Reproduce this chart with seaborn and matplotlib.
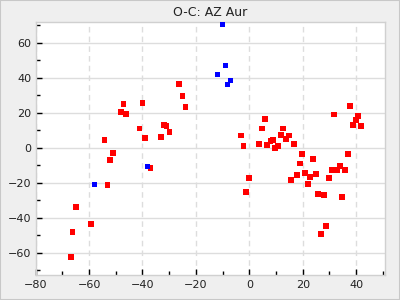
import matplotlib
matplotlib.use("Agg")
import matplotlib.pyplot as plt
from matplotlib.ticker import MultipleLocator
from matplotlib.patches import Rectangle
import seaborn as sns
import pandas as pd

red_x = [-66.9, -66.2, -64.9, -59.1, -54.2, -53.1, -52.0, -51.1, -48.1, -47.1,
         -46.0, -41.1, -40.0, -38.9, -37.0, -32.9, -32.1, -31.0, -29.9, -26.2,
         -25.0, -23.9, -3.0, -2.2, -1.1, 0.0, 3.7, 4.9, 6.0, 6.7,
         7.9, 9.0, 9.7, 10.8, 12.0, 12.7, 13.8, 15.0, 15.7, 16.8,
         17.9, 19.1, 19.8, 20.9, 22.1, 22.8, 23.9, 25.0, 25.8, 26.9,
         28.0, 28.8, 29.9, 31.0, 31.8, 32.9, 34.0, 34.8, 35.9, 37.0,
         37.8, 38.9, 40.0, 40.7, 41.9]
red_y = [-62.3, -48.0, -33.7, -43.4, 4.6, -21.1, -6.9, -2.9, 20.6, 25.1,
         19.4, 10.9, 25.7, 5.7, -11.4, 6.3, 13.1, 12.6, 9.1, 36.6,
         29.7, 23.4, 6.9, 1.1, -25.1, -17.1, 2.3, 10.9, 16.6, 1.7,
         4.0, 4.6, 0.0, 1.1, 7.4, 10.9, 5.1, 6.9, -18.3, 2.3,
         -15.4, -9.1, -3.4, -14.3, -20.6, -16.6, -6.3, -14.9, -26.3, -49.1,
         -26.9, -44.6, -17.1, -12.6, 18.9, -12.6, -10.3, -28.0, -12.6, -3.4,
         24.0, 13.1, 16.0, 18.3, 12.6]
blue_x = [-57.9, -38.1, -12.0, -10.1, -9.0, -8.2, -7.1]
blue_y = [-21.1, -10.9, 41.7, 70.3, 46.9, 36.0, 38.3]

sns.set_theme(style="white")
plt.rcParams['font.family'] = ['DejaVu Sans']

fig = plt.figure(figsize=(4, 3), dpi=100, facecolor="#efefef")
fig.patches.append(Rectangle((0, 0), 1, 1, transform=fig.transFigure,
                             fill=False, edgecolor="#c8c8c8", linewidth=1.5))
ax = fig.add_axes([0.089, 0.082, 0.873, 0.846])
ax.set_facecolor("white")

df_r = pd.DataFrame({"x": red_x, "y": red_y})
df_b = pd.DataFrame({"x": blue_x, "y": blue_y})
sns.scatterplot(data=df_r, x="x", y="y", ax=ax, marker="s", s=18,
                color="#ff0000", edgecolor="none", linewidth=0, zorder=3)
sns.scatterplot(data=df_b, x="x", y="y", ax=ax, marker="s", s=14,
                color="#0000ff", edgecolor="none", linewidth=0, zorder=3)

ax.set_xlim(-80, 50.7)
ax.set_ylim(-73, 72)
ax.xaxis.set_major_locator(MultipleLocator(20))
ax.xaxis.set_minor_locator(MultipleLocator(10))
ax.yaxis.set_major_locator(MultipleLocator(20))
ax.yaxis.set_minor_locator(MultipleLocator(10))
ax.grid(True, which="major", axis="y", color="#dddddd", linestyle="-", linewidth=1)
ax.grid(True, which="major", axis="x", color="#dddddd", linestyle=(0, (4, 3)), linewidth=1)
ax.set_axisbelow(True)
ax.tick_params(axis="both", which="major", direction="in", length=4, width=1,
               color="black", labelsize=8, labelcolor="#222222", pad=3,
               bottom=True, left=True, top=False, right=False)
ax.tick_params(axis="both", which="minor", direction="in", length=3, width=1,
               color="black", bottom=True, left=True, top=False, right=False)
for sp in ax.spines.values():
    sp.set_visible(True)
    sp.set_color("#d0d0d0")
    sp.set_linewidth(1)
ax.set_xlabel("")
ax.set_ylabel("")
ax.set_title("O-C: AZ Aur", fontsize=9, color="#222222", pad=4)

fig.savefig("out.png", dpi=100, facecolor=fig.get_facecolor())
